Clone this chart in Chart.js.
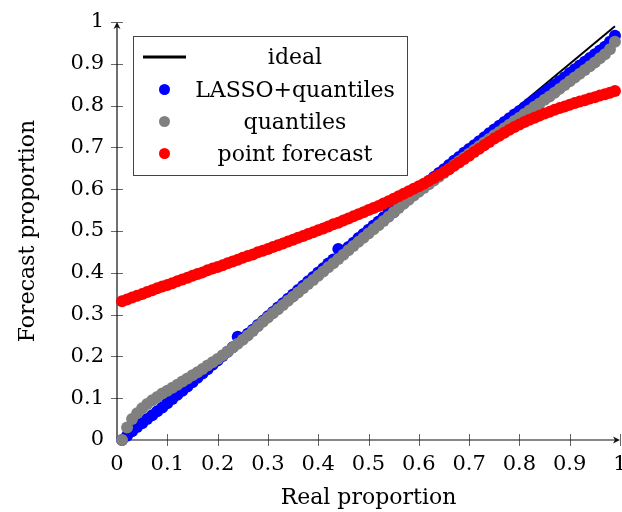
<!DOCTYPE html>
<html>
<head>
<meta charset="utf-8">
<script src="https://cdn.jsdelivr.net/npm/chart.js@4.4.1/dist/chart.umd.min.js"></script>
<style>
  html, body { margin: 0; padding: 0; background: #fff; }
  #wrap { width: 622px; height: 512px; }
</style>
</head>
<body>
<div id="wrap"><canvas id="calib" width="622" height="512"></canvas></div>
<script>
// ============ DATA ============
const seriesNames = ["ideal", "LASSO+quantiles", "quantiles", "point forecast"];
const tickLabels = ["0", "0.1", "0.2", "0.3", "0.4", "0.5", "0.6", "0.7", "0.8", "0.9", "1"];

const idealX = [0.01, 0.99];
const idealY = [0.01, 0.99];

const realProportion = [
  0.01, 0.02, 0.03, 0.04, 0.05, 0.06, 0.07, 0.08, 0.09, 0.10,
  0.11, 0.12, 0.13, 0.14, 0.15, 0.16, 0.17, 0.18, 0.19, 0.20,
  0.21, 0.22, 0.23, 0.24, 0.25, 0.26, 0.27, 0.28, 0.29, 0.30,
  0.31, 0.32, 0.33, 0.34, 0.35, 0.36, 0.37, 0.38, 0.39, 0.40,
  0.41, 0.42, 0.43, 0.44, 0.45, 0.46, 0.47, 0.48, 0.49, 0.50,
  0.51, 0.52, 0.53, 0.54, 0.55, 0.56, 0.57, 0.58, 0.59, 0.60,
  0.61, 0.62, 0.63, 0.64, 0.65, 0.66, 0.67, 0.68, 0.69, 0.70,
  0.71, 0.72, 0.73, 0.74, 0.75, 0.76, 0.77, 0.78, 0.79, 0.80,
  0.81, 0.82, 0.83, 0.84, 0.85, 0.86, 0.87, 0.88, 0.89, 0.90,
  0.91, 0.92, 0.93, 0.94, 0.95, 0.96, 0.97, 0.98, 0.99
];

const lassoQuantiles = [
  0.000, 0.010, 0.021, 0.031, 0.040, 0.050, 0.059, 0.069, 0.078, 0.088,
  0.098, 0.108, 0.118, 0.128, 0.138, 0.149, 0.159, 0.169, 0.180, 0.190,
  0.201, 0.211, 0.222, 0.247, 0.243, 0.254, 0.264, 0.275, 0.285, 0.296,
  0.306, 0.317, 0.327, 0.338, 0.348, 0.359, 0.369, 0.380, 0.390, 0.401,
  0.411, 0.422, 0.432, 0.457, 0.452, 0.462, 0.472, 0.483, 0.493, 0.503,
  0.513, 0.523, 0.533, 0.552, 0.545, 0.560, 0.570, 0.580, 0.590, 0.600,
  0.610, 0.619, 0.629, 0.639, 0.648, 0.658, 0.668, 0.677, 0.687, 0.696,
  0.705, 0.715, 0.724, 0.734, 0.743, 0.752, 0.761, 0.770, 0.779, 0.787,
  0.796, 0.805, 0.814, 0.823, 0.832, 0.841, 0.850, 0.859, 0.868, 0.878,
  0.887, 0.896, 0.905, 0.914, 0.923, 0.932, 0.941, 0.953, 0.967
];

const quantiles = [
  0.000, 0.030, 0.050, 0.064, 0.076, 0.086, 0.095, 0.103, 0.111, 0.118,
  0.125, 0.132, 0.140, 0.147, 0.155, 0.162, 0.170, 0.178, 0.186, 0.194,
  0.203, 0.212, 0.221, 0.230, 0.240, 0.250, 0.261, 0.272, 0.283, 0.293,
  0.303, 0.313, 0.323, 0.333, 0.343, 0.353, 0.363, 0.373, 0.383, 0.393,
  0.403, 0.413, 0.423, 0.433, 0.443, 0.454, 0.464, 0.474, 0.484, 0.494,
  0.504, 0.514, 0.524, 0.534, 0.545, 0.555, 0.565, 0.575, 0.585, 0.594,
  0.603, 0.612, 0.621, 0.630, 0.639, 0.648, 0.658, 0.667, 0.676, 0.685,
  0.694, 0.703, 0.712, 0.720, 0.729, 0.737, 0.746, 0.754, 0.763, 0.771,
  0.780, 0.788, 0.797, 0.805, 0.814, 0.822, 0.831, 0.840, 0.849, 0.858,
  0.867, 0.876, 0.885, 0.894, 0.903, 0.913, 0.923, 0.935, 0.953
];

const pointForecast = [
  0.332, 0.336, 0.341, 0.345, 0.349, 0.354, 0.358, 0.363, 0.367, 0.371,
  0.375, 0.380, 0.384, 0.388, 0.393, 0.397, 0.401, 0.406, 0.410, 0.414,
  0.418, 0.423, 0.427, 0.431, 0.436, 0.440, 0.444, 0.449, 0.453, 0.457,
  0.462, 0.466, 0.470, 0.475, 0.479, 0.484, 0.488, 0.493, 0.497, 0.502,
  0.506, 0.511, 0.516, 0.520, 0.525, 0.530, 0.535, 0.540, 0.545, 0.550,
  0.555, 0.560, 0.566, 0.571, 0.577, 0.583, 0.589, 0.595, 0.601, 0.607,
  0.613, 0.620, 0.627, 0.634, 0.641, 0.648, 0.656, 0.664, 0.672, 0.680,
  0.689, 0.697, 0.705, 0.713, 0.721, 0.728, 0.735, 0.742, 0.749, 0.755,
  0.761, 0.766, 0.771, 0.776, 0.781, 0.785, 0.790, 0.794, 0.798, 0.802,
  0.806, 0.810, 0.813, 0.817, 0.820, 0.824, 0.827, 0.831, 0.835
];

// ============ HELPERS ============
const FONT = "'DejaVu Serif', serif";

function toPoints(ys) {
  return realProportion.map((x, i) => ({ x: x, y: ys[i] }));
}

function dots(label, ys, color, order) {
  return {
    label: label,
    data: toPoints(ys),
    showLine: false,
    pointRadius: 6,
    pointBorderWidth: 0,
    pointBackgroundColor: color,
    borderColor: color,
    order: order,
    clip: false
  };
}

function arrowHead(ctx, tx, ty, dx, dy) {
  // small latex-like filled tip
  const px = -dy, py = dx;
  ctx.beginPath();
  ctx.moveTo(tx, ty);
  ctx.lineTo(tx - dx * 7 + px * 3.5, ty - dy * 7 + py * 3.5);
  ctx.lineTo(tx - dx * 5, ty - dy * 5);
  ctx.lineTo(tx - dx * 7 - px * 3.5, ty - dy * 7 - py * 3.5);
  ctx.closePath();
  ctx.fill();
}

// axes through the origin, tick marks crossing the axis
const middleAxes = {
  id: "middleAxes",
  beforeDatasetsDraw(chart) {
    const { ctx, scales: { x, y } } = chart;
    const x0 = x.getPixelForValue(0), x1 = x.getPixelForValue(1);
    const y0 = y.getPixelForValue(0), y1 = y.getPixelForValue(1);
    ctx.save();
    ctx.strokeStyle = "#666";
    ctx.lineWidth = 1;
    x.ticks.forEach(t => {
      if (t.value === 0) return;
      const px = Math.round(x.getPixelForValue(t.value)) + 0.5;
      ctx.beginPath();
      ctx.moveTo(px, y0 - 6);
      ctx.lineTo(px, y0 + 6);
      ctx.stroke();
    });
    y.ticks.forEach(t => {
      if (t.value === 0) return;
      const py = Math.round(y.getPixelForValue(t.value)) + 0.5;
      ctx.beginPath();
      ctx.moveTo(x0 - 6, py);
      ctx.lineTo(x0 + 6, py);
      ctx.stroke();
    });

    ctx.strokeStyle = "#111";
    ctx.fillStyle = "#111";
    ctx.lineWidth = 1.2;
    ctx.beginPath();
    ctx.moveTo(x0, y0);
    ctx.lineTo(x1 - 4, y0);
    ctx.moveTo(x0, y0);
    ctx.lineTo(x0, y1 + 4);
    ctx.stroke();
    arrowHead(ctx, x1, y0, 1, 0);
    arrowHead(ctx, x0, y1, 0, -1);
    ctx.restore();
  }
};

// boxed legend inside the plot, like pgfplots
const boxLegend = {
  id: "boxLegend",
  afterDraw(chart) {
    const ctx = chart.ctx;
    const bx = 133, by = 36, bw = 274, bh = 139;
    const rowY = [57, 89.5, 121.5, 153.5];
    ctx.save();
    ctx.fillStyle = "#fff";
    ctx.fillRect(bx, by, bw, bh);
    ctx.strokeStyle = "#444";
    ctx.lineWidth = 1;
    ctx.strokeRect(bx + 0.5, by + 0.5, bw, bh);

    chart.data.datasets.forEach((ds, i) => {
      const cy = rowY[i];
      if (ds.showLine) {
        ctx.strokeStyle = ds.borderColor;
        ctx.lineWidth = 3;
        ctx.beginPath();
        ctx.moveTo(143, cy);
        ctx.lineTo(186, cy);
        ctx.stroke();
      } else {
        ctx.fillStyle = ds.pointBackgroundColor;
        ctx.beginPath();
        ctx.arc(164.5, cy, 5.5, 0, Math.PI * 2);
        ctx.fill();
      }
      ctx.fillStyle = "#000";
      ctx.font = "22px " + FONT;
      ctx.textAlign = "center";
      ctx.textBaseline = "alphabetic";
      ctx.fillText(ds.label, 295, cy + 7);
    });
    ctx.restore();
  }
};

// ============ CHART ============
const tickFont = { family: FONT, size: 21 };
const titleFont = { family: FONT, size: 22 };

new Chart(document.getElementById("calib"), {
  type: "scatter",
  data: {
    datasets: [
      {
        label: seriesNames[0],
        data: idealX.map((x, i) => ({ x: x, y: idealY[i] })),
        showLine: true,
        borderColor: "#000",
        borderWidth: 2,
        pointRadius: 0,
        order: 4,
        clip: false
      },
      dots(seriesNames[1], lassoQuantiles, "#0000ff", 3),
      dots(seriesNames[2], quantiles, "#808080", 2),
      dots(seriesNames[3], pointForecast, "#ff0000", 1)
    ]
  },
  options: {
    responsive: false,
    animation: false,
    events: [],
    layout: { autoPadding: false, padding: { left: 0, right: 2, top: 22, bottom: 0 } },
    plugins: {
      legend: { display: false },
      tooltip: { enabled: false }
    },
    scales: {
      x: {
        type: "linear",
        min: 0,
        max: 1,
        grid: { display: false, drawTicks: false },
        border: { display: false },
        ticks: {
          stepSize: 0.1,
          padding: 12,
          color: "#000",
          font: tickFont,
          maxRotation: 0,
          autoSkip: false,
          callback: (v, i) => tickLabels[i]
        },
        title: {
          display: true,
          text: "Real proportion",
          color: "#000",
          font: titleFont,
          padding: { top: 0, bottom: 1 }
        },
        afterFit(s) {
          s.height = 72;
          s.paddingLeft = 0;
          s.paddingRight = 0;
        }
      },
      y: {
        type: "linear",
        min: 0,
        max: 1,
        grid: { display: false, drawTicks: false },
        border: { display: false },
        ticks: {
          stepSize: 0.1,
          padding: 13,
          color: "#000",
          font: tickFont,
          autoSkip: false,
          callback: (v, i) => tickLabels[i]
        },
        title: {
          display: true,
          text: "Forecast proportion",
          color: "#000",
          font: titleFont,
          padding: { top: 15, bottom: 0 }
        },
        afterFit(s) {
          s.width = 117;
          s.paddingTop = 0;
          s.paddingBottom = 0;
        }
      }
    }
  },
  plugins: [middleAxes, boxLegend]
});
</script>
</body>
</html>
